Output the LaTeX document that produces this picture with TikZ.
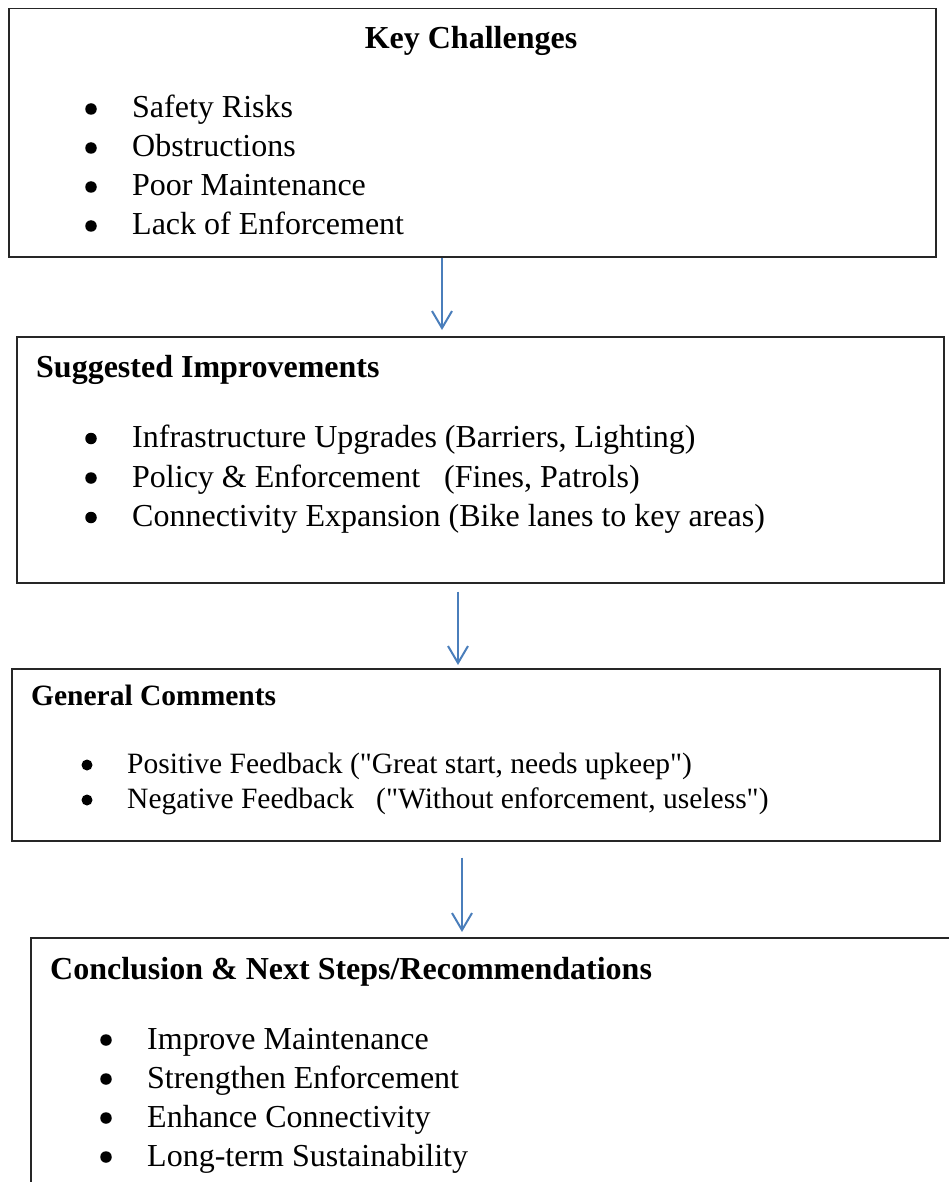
\documentclass[tikz,border=0pt]{standalone}
\usepackage{fontspec}
\setmainfont{Liberation Serif}[Ligatures=TeXOff]
\usetikzlibrary{arrows.meta, positioning}
\definecolor{arrowblue}{HTML}{4A7EBB}

\begin{document}
\begin{tikzpicture}[
    x=1pt, y=-1pt,
    box/.style={draw=black!85, line width=1.5pt, anchor=north west, inner sep=0pt},
    head/.style={font=\fontsize{32}{38}\selectfont\bfseries, anchor=base west, inner sep=0pt},
    item/.style={font=\fontsize{32}{38}\selectfont, anchor=base west, inner sep=0pt},
    dot/.style={circle, fill=black, inner sep=0pt, minimum size=11.5pt},
    small/.style={font=\fontsize{29.5}{35}\selectfont},
    smallhead/.style={font=\fontsize{29.5}{35}\selectfont\bfseries},
    flow/.style={draw=arrowblue, line width=2pt,
      -{Straight Barb[length=17pt, width=20pt, line width=2pt]}}
  ]
  \useasboundingbox (0,0) rectangle (949,1182);
  \clip (0,0) rectangle (949,1182);

  % boxes
  \node[box, minimum width=927pt, minimum height=248pt] (kc) at (8,8) {};
  \node[box, minimum width=927pt, minimum height=246pt] (si) at (16,336) {};
  \node[box, minimum width=928pt, minimum height=172pt] (gc) at (11,668) {};
  \node[box, minimum width=960pt, minimum height=300pt] (cn) at (30,937) {};

  % key challenges
  \node[head, anchor=base] (kc-t) at (471,49) {Key Challenges};
  \foreach \txt [count=\i] in {Safety Risks, Obstructions, Poor Maintenance, Lack of Enforcement} {
    \node[dot] (kc-b\i) at (91, 70+39*\i) {};
    \node[item] (kc-\i) at (132, 79+39*\i) {\txt};
  }

  % suggested improvements
  \node[head] (si-t) at (36,377) {Suggested Improvements};
  \foreach \txt [count=\i] in {{Infrastructure Upgrades (Barriers, Lighting)},
      {Policy \& Enforcement~~~(Fines, Patrols)},
      {Connectivity Expansion (Bike lanes to key areas)}} {
    \node[dot] (si-b\i) at (91, 399+39.5*\i) {};
    \node[item] (si-\i) at (132, 408+39.5*\i) {\txt};
  }

  % general comments
  \node[head, smallhead] (gc-t) at (31,705) {General Comments};
  \foreach \txt [count=\i] in {{Positive Feedback ("Great start, needs upkeep")},
      {Negative Feedback~~~("Without enforcement, useless")}} {
    \node[dot, minimum size=11pt] (gc-b\i) at (87, 730+35*\i) {};
    \node[item, small] (gc-\i) at (127, 738+35*\i) {\txt};
  }

  % conclusion
  \node[head] (cn-t) at (50,979) {Conclusion \& Next Steps/Recommendations};
  \foreach \txt [count=\i] in {Improve Maintenance, Strengthen Enforcement,
      Enhance Connectivity, Long-term Sustainability} {
    \node[dot] (cn-b\i) at (106, 1001+39*\i) {};
    \node[item] (cn-\i) at (147, 1010+39*\i) {\txt};
  }

  % arrows
  \coordinate (a1) at (442,0);
  \coordinate (a2) at (458,0);
  \coordinate (a3) at (462,0);
  \draw[flow, shorten >=6pt] (kc.south -| a1) -- (si.north -| a1);
  \draw[flow, shorten <=8pt, shorten >=3pt] (si.south -| a2) -- (gc.north -| a2);
  \draw[flow, shorten <=16pt, shorten >=5pt] (gc.south -| a3) -- (cn.north -| a3);
\end{tikzpicture}
\end{document}
